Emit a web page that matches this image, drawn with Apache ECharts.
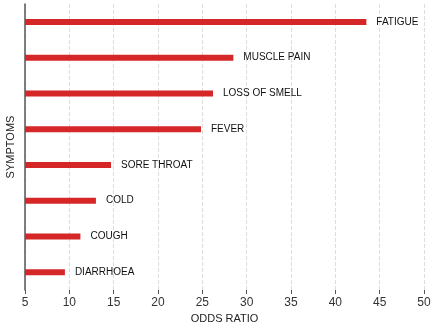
<!DOCTYPE html>
<html lang="en">
<head>
    <meta charset="UTF-8">
    <title>Odds ratio</title>
    <script src="https://cdn.jsdelivr.net/npm/echarts@6/dist/echarts.min.js"></script>
</head>
<style>
html,body{margin:0;padding:0;background-color:#fff}
#chartBox{width:437px;height:327px}
</style>
<body>
    <div id="chartBox"></div>
</body>
<script>
// symptoms, bottom to top
let symptoms = ['DIARRHOEA', 'COUGH', 'COLD', 'SORE THROAT', 'FEVER', 'LOSS OF SMELL', 'MUSCLE PAIN', 'FATIGUE'];
let oddsRatio = [9.5, 11.25, 13.0, 14.7, 24.85, 26.2, 28.5, 43.5];
let xTicks = [5, 10, 15, 20, 25, 30, 35, 40, 45, 50];

let fontFam = 'Liberation Sans, Arial, sans-serif';
let chartObj = echarts.init(document.getElementById('chartBox'));
chartObj.setOption({
    animation: false,
    textStyle: {fontFamily: fontFam},
    grid: {left: 25, right: 13, top: 4, bottom: 37, outerBoundsMode: 'none', containLabel: false},
    xAxis: {
        type: 'value',
        min: xTicks[0],
        max: xTicks[xTicks.length - 1],
        interval: 5,
        name: 'ODDS RATIO',
        nameLocation: 'center',
        nameGap: 21,
        nameTextStyle: {fontSize: 11, color: '#222', fontFamily: fontFam},
        axisLine: {lineStyle: {color: '#555', width: 1.5}},
        axisTick: {show: true, length: 4, lineStyle: {color: '#555'}},
        axisLabel: {fontSize: 12, color: '#333', margin: 7, fontFamily: fontFam},
        splitLine: {show: true, lineStyle: {color: '#ddd', type: 'dashed'}}
    },
    yAxis: {
        type: 'category',
        data: symptoms,
        name: 'SYMPTOMS',
        nameLocation: 'center',
        nameGap: 9,
        nameRotate: 90,
        nameTextStyle: {fontSize: 11, color: '#222', fontFamily: fontFam},
        axisLine: {lineStyle: {color: '#555', width: 1.5}},
        axisTick: {show: false},
        axisLabel: {show: false},
        splitLine: {show: false}
    },
    series: [{
        type: 'bar',
        data: oddsRatio,
        barWidth: 6,
        itemStyle: {color: '#d62728'},
        label: {
            show: true,
            position: 'right',
            distance: 10,
            fontSize: 10,
            color: '#111',
            fontFamily: fontFam,
            formatter: function (p) { return p.name; }
        }
    }]
});
</script>
</html>
